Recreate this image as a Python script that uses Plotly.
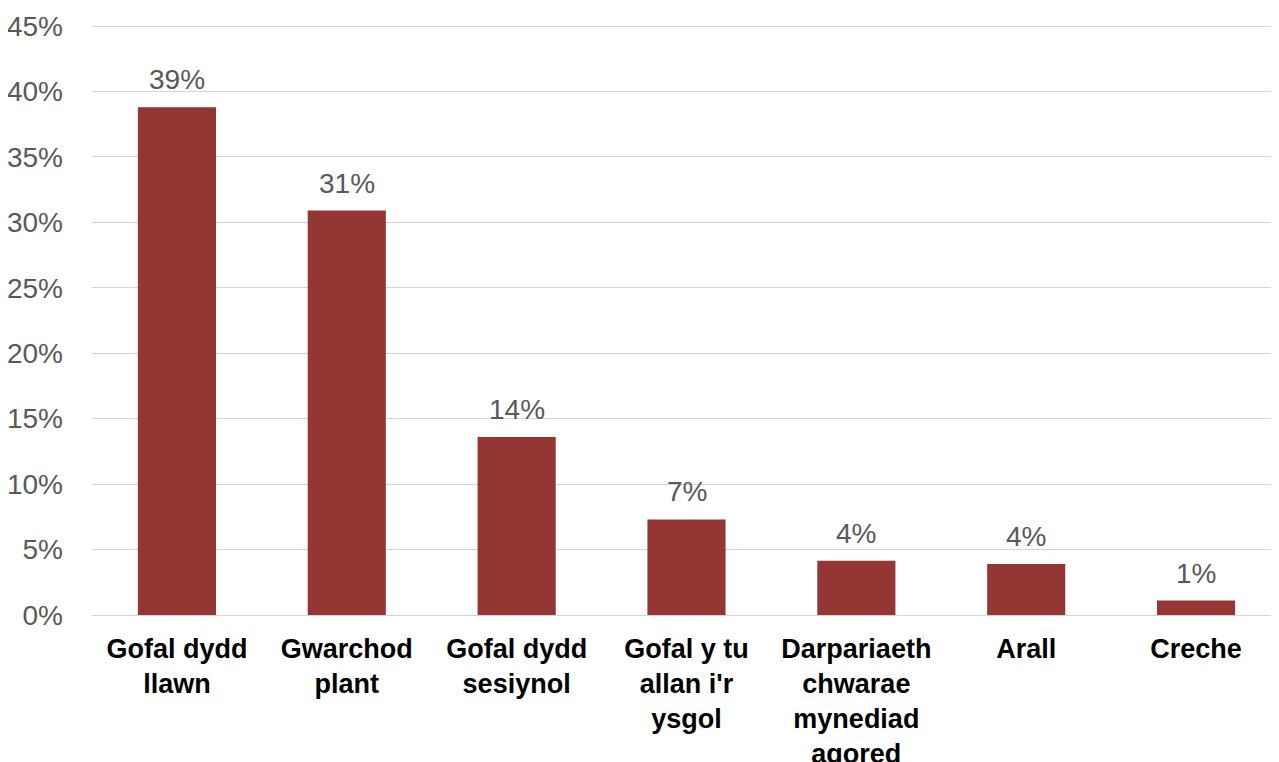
import plotly.graph_objects as go

categories = ["Gofal dydd<br>llawn", "Gwarchod<br>plant", "Gofal dydd<br>sesiynol",
              "Gofal y tu<br>allan i'r<br>ysgol", "Darpariaeth<br>chwarae<br>mynediad<br>agored",
              "Arall", "Creche"]
values = [38.8, 30.9, 13.6, 7.3, 4.15, 3.9, 1.1]
value_labels = ["39%", "31%", "14%", "7%", "4%", "4%", "1%"]
tick_vals = [0, 5, 10, 15, 20, 25, 30, 35, 40, 45]
tick_text = [f"{v}%" for v in tick_vals]

BAR = "#943634"
FONT = "Liberation Sans, Arial, sans-serif"

fig = go.Figure()
fig.add_trace(go.Bar(
    x=categories, y=values,
    marker=dict(color=BAR, line=dict(width=0)),
    cliponaxis=False,
    hoverinfo="x+y",
))

for c, v, t in zip(categories, values, value_labels):
    fig.add_annotation(
        x=c, y=v, text=t, showarrow=False,
        yanchor="bottom", yshift=10,
        font=dict(family=FONT, size=28, color="#595959"),
    )

# page body has an 8px margin; shift the figure margins to compensate
fig.update_layout(
    width=1279, height=762,
    margin=dict(l=84, r=6, t=15, b=155, autoexpand=False),
    paper_bgcolor="white", plot_bgcolor="white",
    bargap=0.54,
    showlegend=False,
    font=dict(family=FONT),
)
fig.update_yaxes(
    range=[0, 45.23], tickvals=tick_vals, ticktext=tick_text,
    showgrid=True, gridcolor="#d4d4d4", gridwidth=1,
    zeroline=True, zerolinecolor="#d4d4d4", zerolinewidth=1,
    showline=False, ticks="", ticklabelstandoff=28,
    tickfont=dict(family=FONT, size=28, color="#595959"),
    automargin=False,
)
fig.update_xaxes(
    showgrid=False, showline=False, ticks="",
    tickfont=dict(family=FONT, size=27, color="#000000", weight="bold"),
    ticklabelstandoff=15,
    automargin=False,
)
fig.write_html("out.html")
